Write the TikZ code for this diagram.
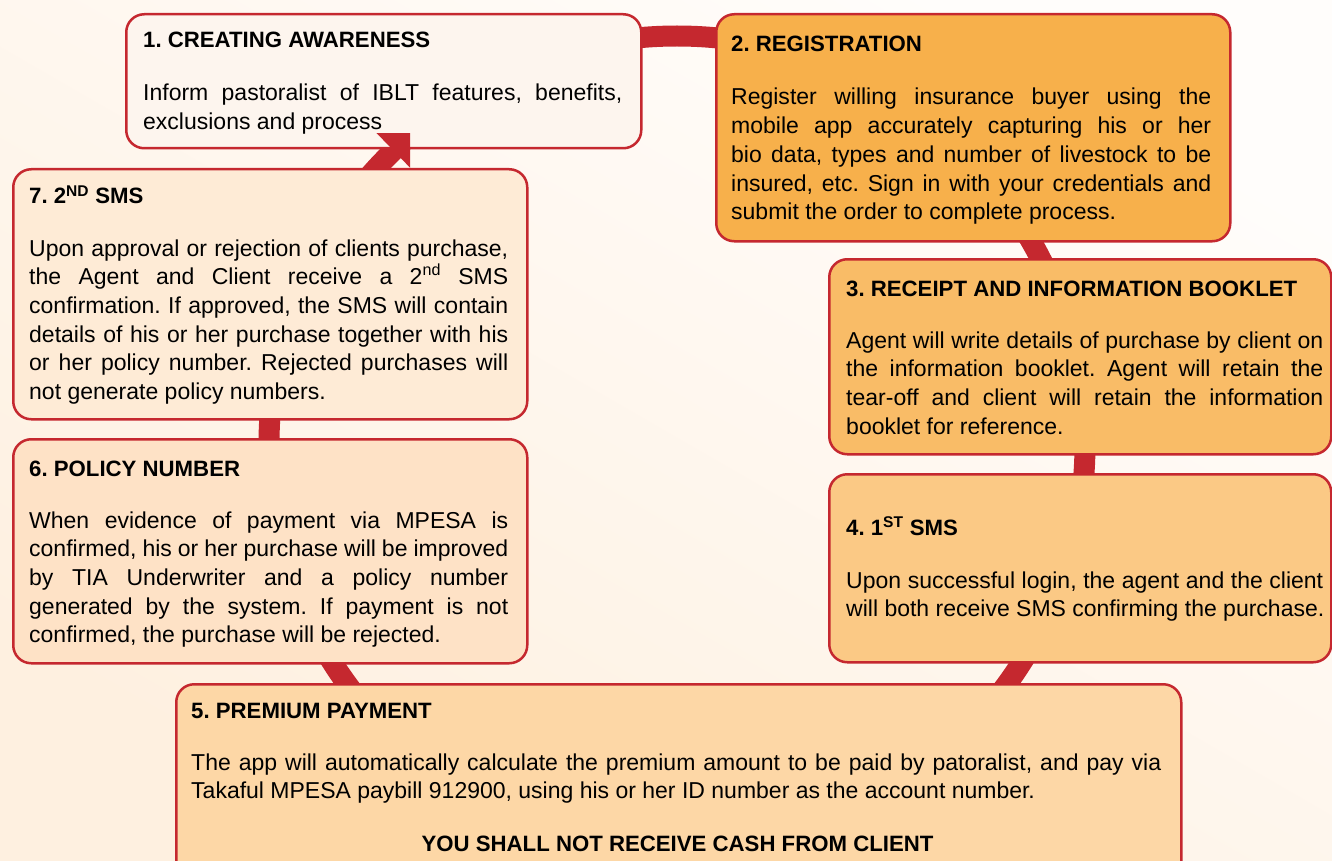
\documentclass[tikz,border=0pt]{standalone}
\usepackage{fontspec}
\setmainfont{Liberation Sans}
\frenchspacing
\definecolor{ringred}{HTML}{C5282F}
\definecolor{bgA}{HTML}{FFFDFB}
\definecolor{bgB}{HTML}{FEF0E0}
\definecolor{cA}{HTML}{FDF5EE}
\definecolor{cB}{HTML}{F7B04B}
\definecolor{cC}{HTML}{F9BC67}
\definecolor{cD}{HTML}{FBC985}
\definecolor{cE}{HTML}{FDD7A6}
\definecolor{cF}{HTML}{FEE2C6}
\definecolor{cG}{HTML}{FEEBD6}
\newlength\tw
\newcommand\jl[1]{\hbox to \tw{#1}}
\newcommand\lastl[1]{\hbox{#1}}
\newcommand\para[2]{\vtop{\tw=#1\relax\baselineskip=28.7pt\lineskip=0pt #2}}
\tikzset{
  box/.style={draw=ringred, line width=2.5pt, rounded corners=18pt, anchor=north west, inner sep=0pt},
  ttl/.style={anchor=base west, inner sep=0pt, font=\frenchspacing\bfseries\fontsize{22.2}{28.7}\selectfont},
  body/.style={anchor=base west, inner sep=0pt, font=\frenchspacing\fontsize{23}{28.7}\selectfont},
  ringline/.style={draw=ringred, line width=21pt}
}
\begin{document}
\begin{tikzpicture}[x=1pt,y=-1pt]
\useasboundingbox (0,0) rectangle (1332,861);
\clip (0,0) rectangle (1332,861);
\shade[shading=axis, top color=bgA, bottom color=bgB, shading angle=-30] (0,0) rectangle (1332,861);
% cycle ring
\coordinate (C) at (677,444);
\draw[ringline] (C) circle[radius=408];
% box 1
\node[box, fill=cA, minimum width=515pt, minimum height=134pt] (b1) at (125,13) {};
% arrow head into box 1
\coordinate (tip) at (423.7,121.4);
\coordinate (barbR) at (411.6,169.3);
\coordinate (barbL) at (375.4,131.9);
\begin{scope}
\clip (300,134) rectangle (410,168);
\fill[ringred] (tip) -- (barbR) -- (barbL) -- cycle;
\end{scope}
% other boxes
\node[box, fill=cB, minimum width=514pt, minimum height=227pt] (b2) at (715,13) {};
\node[box, fill=cC, minimum width=502pt, minimum height=195pt] (b3) at (828,258) {};
\node[box, fill=cD, minimum width=502pt, minimum height=188pt] (b4) at (828,473) {};
\node[box, fill=cE, minimum width=1005pt, minimum height=200pt] (b5) at (175,683) {};
\node[box, fill=cF, minimum width=514pt, minimum height=224pt] (b6) at (12,438) {};
\node[box, fill=cG, minimum width=514pt, minimum height=250pt] (b7) at (12,168) {};
% texts
\node[ttl] (h1) at (143,48) {1. CREATING AWARENESS};
\node[body] (t1) at (143,101) {\para{479pt}{%
\jl{Inform pastoralist of IBLT features, benefits,}%
\lastl{exclusions and process}}};
\node[ttl] (h2) at (731,52) {2. REGISTRATION};
\node[body] (t2) at (731,105) {\para{480pt}{%
\jl{Register willing insurance buyer using the}%
\jl{mobile app accurately capturing his or her}%
\jl{bio data, types and number of livestock to be}%
\jl{insured, etc. Sign in with your credentials and}%
\lastl{submit the order to complete process.}}};
\node[ttl] (h3) at (846,296) {3. RECEIPT AND INFORMATION BOOKLET};
\node[body] (t3) at (846,348) {\para{477pt}{%
\jl{Agent will write details of purchase by client on}%
\jl{the information booklet. Agent will retain the}%
\jl{tear-off and client will retain the information}%
\lastl{booklet for reference.}}};
\node[ttl] (h4) at (846,535) {4. 1\textsuperscript{ST} SMS};
\node[body] (t4) at (846,588) {\para{477pt}{%
\jl{Upon successful login, the agent and the client}%
\lastl{will both receive SMS confirming the purchase.}}};
\node[ttl] (h5) at (191,718) {5. PREMIUM PAYMENT};
\node[body] (t5) at (191,770) {\para{970pt}{%
\jl{The app will automatically calculate the premium amount to be paid by patoralist, and pay via}%
\lastl{Takaful MPESA paybill 912900, using his or her ID number as the account number.}}};
\node[ttl, anchor=base] (w5) at (677.5,851) {YOU SHALL NOT RECEIVE CASH FROM CLIENT};
\node[ttl] (h6) at (29,476) {6. POLICY NUMBER};
\node[body] (t6) at (29,528) {\para{479pt}{%
\jl{When evidence of payment via MPESA is}%
\jl{confirmed, his or her purchase will be improved}%
\jl{by TIA Underwriter and a policy number}%
\jl{generated by the system. If payment is not}%
\lastl{confirmed, the purchase will be rejected.}}};
\node[ttl] (h7) at (29,204) {7. 2\textsuperscript{ND} SMS};
\node[body] (t7) at (29,256) {\para{479pt}{%
\jl{Upon approval or rejection of clients purchase,}%
\jl{the Agent and Client receive a 2\textsuperscript{nd} SMS}%
\jl{confirmation. If approved, the SMS will contain}%
\jl{details of his or her purchase together with his}%
\jl{or her policy number. Rejected purchases will}%
\lastl{not generate policy numbers.}}};
\end{tikzpicture}
\end{document}
